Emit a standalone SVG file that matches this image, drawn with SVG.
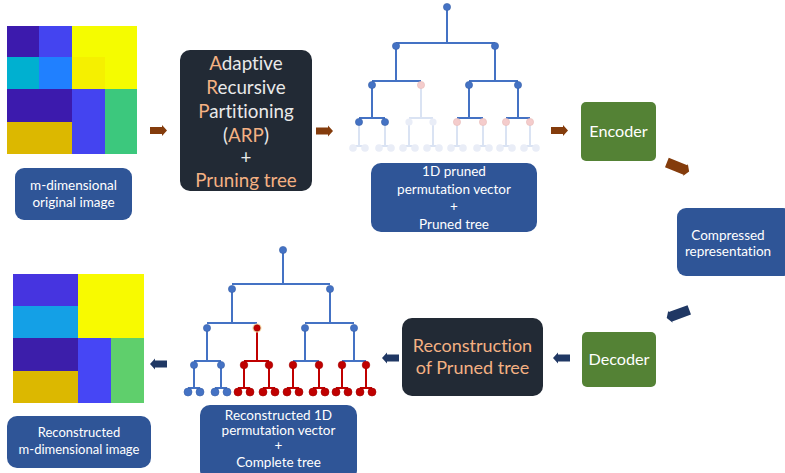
<svg xmlns="http://www.w3.org/2000/svg" width="785" height="473" viewBox="0 0 785 473">
<style>
  text { font-family: Lato, "Open Sans", "Liberation Sans", sans-serif; text-anchor: middle; font-variant-ligatures: none; font-feature-settings: "liga" 0, "dlig" 0; }
  .dark { fill: #222a35; }
  .blue { fill: #2f5597; }
  .green { fill: #548235; }
  .wt { fill: #ffffff; }
  .arp { fill: #e9e9e9; font-size: 18.8px; }
  .or { fill: #f4b183; }
  .lbl { fill: #ffffff; font-size: 13.5px; }
  .tb { stroke: #4472c4; stroke-width: 2; fill: none; }
  .tf { stroke: #dae3f3; stroke-width: 2; fill: none; }
  .tr { stroke: #c00000; stroke-width: 2; fill: none; }
  .nb { fill: #4472c4; stroke: #3a62a8; stroke-width: 0.6; }
  .np { fill: #f4cccc; stroke: #e8bcb8; stroke-width: 0.6; }
  .nf { fill: #e9edf7; }
  .nr { fill: #c00000; stroke: #a00000; stroke-width: 0.6; }
  .brown { fill: #843c0c; }
  .navy { fill: #203864; }
</style>
<defs>
  <path id="aR" d="M0,-3.5H12V-5.5L17,0L12,5.5V3.5H0Z"/>
  <path id="aL" d="M17,-3.5H5V-5.5L0,0L5,5.5V3.5H17Z"/>
  <path id="dR" d="M-12,-5H8V-6.5L12,0L8,6.5V5H-12Z"/>
  <path id="dL" d="M12,-5H-8V-6.5L-12,0L-8,6.5V5H12Z"/>
</defs>

<!-- Original image -->
<g id="original-image">
  <rect x="7" y="26" width="32" height="31" fill="#3c1aad"/>
  <rect x="39" y="26" width="33" height="31" fill="#4444f0"/>
  <rect x="72" y="26" width="65" height="63" fill="#f5fc00"/>
  <rect x="7" y="57" width="32" height="32" fill="#00b0d0"/>
  <rect x="39" y="57" width="33" height="32" fill="#2080ff"/>
  <rect x="72" y="57" width="33" height="32" fill="#f5f000"/>
  <rect x="7" y="89" width="65" height="33" fill="#3c1aad"/>
  <rect x="7" y="122" width="65" height="32" fill="#dcb800"/>
  <rect x="72" y="89" width="33" height="65" fill="#4444f0"/>
  <rect x="105" y="89" width="32" height="65" fill="#3cc87d"/>
</g>
<g id="original-label">
  <rect class="blue" x="15" y="168" width="117" height="52" rx="9"/>
  <text class="lbl" x="73.5" y="190">m-dimensional</text>
  <text class="lbl" x="73.5" y="207">original image</text>
</g>

<!-- ARP -->
<g id="arp">
  <rect class="dark" x="180" y="50" width="132" height="141" rx="10"/>
  <text class="arp" x="246" y="70"><tspan class="or">A</tspan>daptive</text>
  <text class="arp" x="246" y="94"><tspan class="or">R</tspan>ecursive</text>
  <text class="arp" x="246" y="118"><tspan class="or">P</tspan>artitioning</text>
  <text class="arp" x="246" y="142">(<tspan class="or">ARP</tspan>)</text>
  <text class="arp" x="246" y="164">+</text>
  <text class="arp or" x="246" y="187">Pruning tree</text>
</g>

<!-- Pruned tree (top) -->
<g id="pruned-tree">
  <path class="tf" d="M421,85V118M409,118H433"/>
  <path class="tf" d="M359,122V146M353,146H365M385,122V146M379,146H391M409,122V146M403,146H415M433,122V146M427,146H439M457,122V146M451,146H463M483,122V146M477,146H489M506,122V146M500,146H512M530,122V146M524,146H536"/>
  <path class="tb" d="M447,7V43M396,43H495M396,46V81M495,46V81M372,81H421M469,81H518M372,85V118M359,118H385M469,85V118M457,118H483M518,85V118M506,118H530"/>
  <circle class="nb" cx="447" cy="7" r="3.6"/>
  <circle class="nb" cx="396" cy="46" r="3.6"/>
  <circle class="nb" cx="495" cy="46" r="3.6"/>
  <circle class="nb" cx="372" cy="85" r="3.6"/>
  <circle class="np" cx="421" cy="85" r="3.6"/>
  <circle class="nb" cx="469" cy="85" r="3.6"/>
  <circle class="nb" cx="518" cy="85" r="3.6"/>
  <circle class="nb" cx="359" cy="122" r="3.6"/>
  <circle class="nb" cx="385" cy="122" r="3.6"/>
  <circle class="nf" cx="409" cy="122" r="3.6"/>
  <circle class="nf" cx="433" cy="122" r="3.6"/>
  <circle class="np" cx="457" cy="122" r="3.6"/>
  <circle class="np" cx="483" cy="122" r="3.6"/>
  <circle class="np" cx="506" cy="122" r="3.6"/>
  <circle class="np" cx="530" cy="122" r="3.6"/>
  <g class="nf">
    <circle cx="353" cy="148" r="3.8"/><circle cx="365" cy="148" r="3.8"/>
    <circle cx="379" cy="148" r="3.8"/><circle cx="391" cy="148" r="3.8"/>
    <circle cx="403" cy="148" r="3.8"/><circle cx="415" cy="148" r="3.8"/>
    <circle cx="427" cy="148" r="3.8"/><circle cx="439" cy="148" r="3.8"/>
    <circle cx="451" cy="148" r="3.8"/><circle cx="463" cy="148" r="3.8"/>
    <circle cx="477" cy="148" r="3.8"/><circle cx="489" cy="148" r="3.8"/>
    <circle cx="500" cy="148" r="3.8"/><circle cx="512" cy="148" r="3.8"/>
    <circle cx="524" cy="148" r="3.8"/><circle cx="536" cy="148" r="3.8"/>
  </g>
</g>
<g id="pruned-label">
  <rect class="blue" x="371" y="163" width="166" height="69" rx="10"/>
  <text class="lbl" x="454" y="176">1D pruned</text>
  <text class="lbl" x="454" y="194">permutation vector</text>
  <text class="lbl" x="454" y="211">+</text>
  <text class="lbl" x="454" y="229">Pruned tree</text>
</g>

<!-- Encoder -->
<g id="encoder">
  <rect class="green" x="581" y="102" width="75" height="59" rx="5"/>
  <text class="wt" x="618.5" y="137" font-size="16.2">Encoder</text>
</g>

<!-- Compressed representation -->
<g id="compressed">
  <rect class="blue" x="677" y="208" width="115" height="68" rx="9"/>
  <text class="wt" x="728" y="240" font-size="13.5">Compressed</text>
  <text class="wt" x="728" y="256" font-size="13.5">representation</text>
</g>

<!-- Decoder -->
<g id="decoder">
  <rect class="green" x="582" y="332" width="74" height="55" rx="5"/>
  <text class="wt" x="619" y="365" font-size="16.2">Decoder</text>
</g>

<!-- Reconstruction of pruned tree -->
<g id="reconstruction">
  <rect class="dark" x="402" y="318" width="141" height="78" rx="10"/>
  <text class="or" x="472.5" y="352" font-size="18">Reconstruction</text>
  <text class="or" x="472.5" y="374" font-size="18">of Pruned tree</text>
</g>

<!-- Complete tree (bottom) -->
<g id="complete-tree">
  <path class="tb" d="M283,250V284M232,284H330M232,289V323M330,289V323M207,323H257M305,323H354M207,328V361M194,361H221M305,328V361M293,361H319M354,328V361M342,361H366M194,365V388M188,388H200M221,365V388M215,388H227"/>
  <path class="tr" d="M257,328V361M244,361H269M244,365V388M238,388H250M269,365V388M263,388H275M293,365V388M287,388H299M319,365V388M313,388H325M342,365V388M336,388H348M366,365V388M360,388H372"/>
  <circle class="nb" cx="283" cy="250" r="3.6"/>
  <circle class="nb" cx="232" cy="289" r="3.6"/>
  <circle class="nb" cx="330" cy="289" r="3.6"/>
  <circle class="nb" cx="207" cy="328" r="3.6"/>
  <circle cx="257" cy="328" r="4.6" fill="#f3d9a8"/>
  <circle class="nr" cx="257" cy="328" r="3.2"/>
  <circle class="nb" cx="305" cy="328" r="3.6"/>
  <circle class="nb" cx="354" cy="328" r="3.6"/>
  <circle class="nb" cx="194" cy="365" r="3.6"/>
  <circle class="nb" cx="221" cy="365" r="3.6"/>
  <circle class="nr" cx="244" cy="365" r="3.8"/>
  <circle class="nr" cx="269" cy="365" r="3.8"/>
  <circle class="nr" cx="293" cy="365" r="3.8"/>
  <circle class="nr" cx="319" cy="365" r="3.8"/>
  <circle class="nr" cx="342" cy="365" r="3.8"/>
  <circle class="nr" cx="366" cy="365" r="3.8"/>
  <g class="nb">
    <circle cx="188" cy="392" r="4"/><circle cx="200" cy="392" r="4"/>
    <circle cx="215" cy="392" r="4"/><circle cx="227" cy="392" r="4"/>
  </g>
  <g class="nr">
    <circle cx="238" cy="392" r="4"/><circle cx="250" cy="392" r="4"/>
    <circle cx="263" cy="392" r="4"/><circle cx="275" cy="392" r="4"/>
    <circle cx="287" cy="392" r="4"/><circle cx="299" cy="392" r="4"/>
    <circle cx="313" cy="392" r="4"/><circle cx="325" cy="392" r="4"/>
    <circle cx="336" cy="392" r="4"/><circle cx="348" cy="392" r="4"/>
    <circle cx="360" cy="392" r="4"/><circle cx="372" cy="392" r="4"/>
  </g>
</g>
<g id="complete-label">
  <rect class="blue" x="200" y="405" width="157" height="75" rx="10"/>
  <text class="lbl" x="278.5" y="420">Reconstructed 1D</text>
  <text class="lbl" x="278.5" y="435">permutation vector</text>
  <text class="lbl" x="278.5" y="450">+</text>
  <text class="lbl" x="278.5" y="467">Complete tree</text>
</g>

<!-- Reconstructed image -->
<g id="reconstructed-image">
  <rect x="13" y="274" width="65" height="32" fill="#4634e0"/>
  <rect x="13" y="306" width="65" height="32" fill="#14a0e6"/>
  <rect x="13" y="338" width="65" height="33" fill="#3c1eaa"/>
  <rect x="13" y="371" width="65" height="32" fill="#dcb800"/>
  <rect x="78" y="274" width="66" height="64" fill="#f8fa00"/>
  <rect x="78" y="338" width="33" height="65" fill="#4646f5"/>
  <rect x="111" y="338" width="33" height="65" fill="#5fcf6c"/>
</g>
<g id="reconstructed-label">
  <rect class="blue" x="7" y="416" width="144" height="52" rx="10"/>
  <text class="wt" x="79" y="437" font-size="13">Reconstructed</text>
  <text class="wt" x="79" y="454" font-size="13">m-dimensional image</text>
</g>

<!-- Connectors -->
<g id="connectors">
  <use href="#aR" class="brown" x="150" y="130.5"/>
  <use href="#aR" class="brown" x="316" y="131"/>
  <use href="#aR" class="brown" x="551" y="130.5"/>
  <use href="#dR" class="brown" transform="translate(678,167) rotate(22)"/>
  <use href="#dL" class="navy" transform="translate(678,314) rotate(-20)"/>
  <use href="#aL" class="navy" x="553" y="358"/>
  <use href="#aL" class="navy" x="382" y="358"/>
  <use href="#aL" class="navy" x="150" y="364"/>
</g>
</svg>
